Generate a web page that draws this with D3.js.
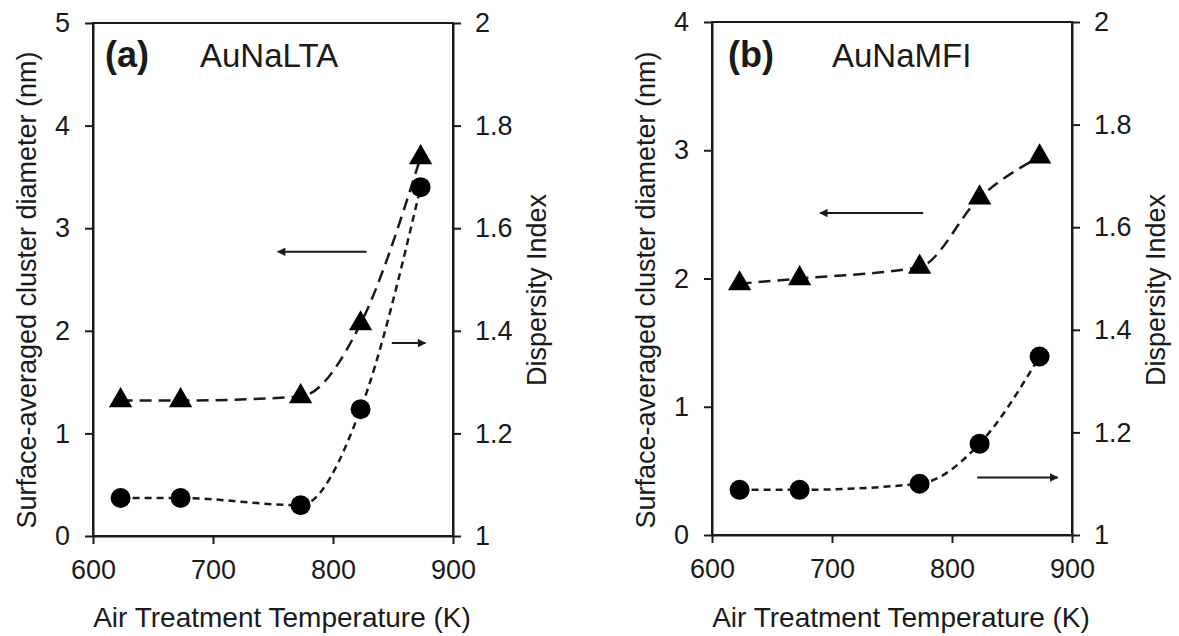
<!DOCTYPE html>
<html>
<head>
<meta charset="utf-8">
<script src="https://cdn.jsdelivr.net/npm/d3@7"></script>
<style>
    body { margin: 0; background: #ffffff; }
    svg { font-family: "Liberation Sans", Arial, sans-serif; }
</style>
</head>
<body>
<svg id="chart" width="1179" height="636"></svg>
<script>
const temps = [623, 673, 773, 823, 873];
const xTicks = [600, 700, 800, 900];
const rightTicks = [1, 1.2, 1.4, 1.6, 1.8, 2];

// (a) AuNaLTA
const ltaDiameter = [1.32, 1.32, 1.36, 2.07, 3.69];
const ltaDispersity = [1.074, 1.074, 1.06, 1.247, 1.68];
const ltaLeftTicks = [0, 1, 2, 3, 4, 5];
// arrows: [x1, x2, y] in data units, y on the axis the arrow points to
const ltaArrowLeft = [828, 754, 2.77];
const ltaArrowRight = [849, 877, 1.376];

// (b) AuNaMFI
const mfiDiameter = [1.96, 2.0, 2.09, 2.63, 2.95];
const mfiDispersity = [1.088, 1.088, 1.10, 1.178, 1.348];
const mfiLeftTicks = [0, 1, 2, 3, 4];
const mfiArrowLeft = [776, 690, 2.51];
const mfiArrowRight = [821, 888, 1.112];

const svg = d3.select("#chart");
const ink = "#1a1a1a";

svg.append("rect").attr("width", 1179).attr("height", 636).attr("fill", "#ffffff");

var defs = svg.append("defs");
defs.append("marker")
    .attr("id", "head")
    .attr("viewBox", "0 0 10 10")
    .attr("refX", 9).attr("refY", 5)
    .attr("markerWidth", 5).attr("markerHeight", 4.2)
    .attr("markerUnits", "strokeWidth")
    .attr("orient", "auto")
    .append("path")
    .attr("d", "M0,0 L10,5 L0,10 Z")
    .attr("fill", ink);

function plain(d) { return String(d); }

function drawPanel(p) {
    var g = svg.append("g");
    var x = d3.scaleLinear().domain([600, 900]).range([p.left, p.right]);
    var yL = d3.scaleLinear().domain([0, p.leftMax]).range([p.bottom, p.top]);
    var yR = d3.scaleLinear().domain([1, 2]).range([p.bottom, p.top]);

    // plot frame
    g.append("rect")
        .attr("x", p.left).attr("y", p.top)
        .attr("width", p.right - p.left).attr("height", p.bottom - p.top)
        .attr("fill", "none").attr("stroke", ink).attr("stroke-width", 2);

    var axB = g.append("g").attr("transform", "translate(0," + p.bottom + ")")
        .call(d3.axisBottom(x).tickValues(xTicks).tickFormat(plain)
            .tickSize(8).tickPadding(16).tickSizeOuter(0));
    var axL = g.append("g").attr("transform", "translate(" + p.left + ",0)")
        .call(d3.axisLeft(yL).tickValues(p.leftTicks).tickFormat(plain)
            .tickSize(8).tickPadding(15).tickSizeOuter(0));
    var axR = g.append("g").attr("transform", "translate(" + p.right + ",0)")
        .call(d3.axisRight(yR).tickValues(rightTicks).tickFormat(plain)
            .tickSize(8).tickPadding(14).tickSizeOuter(0));
    [axB, axL, axR].forEach(function(a) {
        a.select(".domain").attr("stroke", ink).attr("stroke-width", 2);
        a.selectAll(".tick line").attr("stroke", ink).attr("stroke-width", 2);
        a.selectAll("text").attr("font-size", "27px").attr("fill", ink)
            .attr("font-family", "Liberation Sans, Arial, sans-serif");
    });

    // smoothed dashed lines
    var lineL = d3.line()
        .x(function(d, i) { return x(temps[i]); })
        .y(function(d) { return yL(d); })
        .curve(d3.curveMonotoneX);
    var lineR = d3.line()
        .x(function(d, i) { return x(temps[i]); })
        .y(function(d) { return yR(d); })
        .curve(d3.curveMonotoneX);

    g.append("path").datum(p.diameter)
        .attr("d", lineL)
        .attr("fill", "none").attr("stroke", ink)
        .attr("stroke-width", 2.5).attr("stroke-dasharray", "12,7");
    g.append("path").datum(p.dispersity)
        .attr("d", lineR)
        .attr("fill", "none").attr("stroke", ink)
        .attr("stroke-width", 2.5).attr("stroke-dasharray", "7,5");

    g.selectAll(".tri").data(p.diameter).enter()
        .append("path")
        .attr("class", "tri")
        .attr("d", d3.symbol().type(d3.symbolTriangle).size(235))
        .attr("transform", function(d, i) {
            return "translate(" + x(temps[i]) + "," + yL(d) + ")";
        })
        .attr("fill", "#000000");

    g.selectAll(".dot").data(p.dispersity).enter()
        .append("circle")
        .attr("class", "dot")
        .attr("cx", function(d, i) { return x(temps[i]); })
        .attr("cy", function(d) { return yR(d); })
        .attr("r", 10)
        .attr("fill", "#000000");

    // arrows telling which axis goes with which series
    g.append("line")
        .attr("x1", x(p.arrowLeft[0])).attr("x2", x(p.arrowLeft[1]))
        .attr("y1", yL(p.arrowLeft[2])).attr("y2", yL(p.arrowLeft[2]))
        .attr("stroke", ink).attr("stroke-width", 2)
        .attr("marker-end", "url(#head)");
    g.append("line")
        .attr("x1", x(p.arrowRight[0])).attr("x2", x(p.arrowRight[1]))
        .attr("y1", yR(p.arrowRight[2])).attr("y2", yR(p.arrowRight[2]))
        .attr("stroke", ink).attr("stroke-width", 2)
        .attr("marker-end", "url(#head)");

    // labels
    g.append("text").text(p.tag)
        .attr("x", p.left + p.tagDx).attr("y", 67)
        .attr("font-size", "36px").attr("font-weight", "bold").attr("fill", ink);
    g.append("text").text(p.name)
        .attr("x", p.left + p.nameDx).attr("y", 67)
        .attr("font-size", "33px").attr("fill", ink);

    g.append("text").text("Air Treatment Temperature (K)")
        .attr("x", (p.left + p.right) / 2 + 9).attr("y", 627)
        .attr("text-anchor", "middle")
        .attr("font-size", "28px").attr("fill", ink);
    g.append("text").text("Surface-averaged cluster diameter (nm)")
        .attr("transform", "translate(" + (p.left - 66) + ",290) rotate(-90)")
        .attr("text-anchor", "middle").attr("dy", "0.35em")
        .attr("font-size", "27px").attr("fill", ink);
    g.append("text").text("Dispersity Index")
        .attr("transform", "translate(" + (p.right + 84) + ",290) rotate(-90)")
        .attr("text-anchor", "middle").attr("dy", "0.35em")
        .attr("font-size", "27px").attr("fill", ink);
}

drawPanel({
    left: 93, right: 453, top: 23, bottom: 536,
    leftMax: 5, leftTicks: ltaLeftTicks,
    diameter: ltaDiameter, dispersity: ltaDispersity,
    arrowLeft: ltaArrowLeft, arrowRight: ltaArrowRight,
    tag: "(a)", tagDx: 12, name: "AuNaLTA", nameDx: 107
});

drawPanel({
    left: 712, right: 1072, top: 22, bottom: 535,
    leftMax: 4, leftTicks: mfiLeftTicks,
    diameter: mfiDiameter, dispersity: mfiDispersity,
    arrowLeft: mfiArrowLeft, arrowRight: mfiArrowRight,
    tag: "(b)", tagDx: 16, name: "AuNaMFI", nameDx: 120
});
</script>
</body>
</html>
